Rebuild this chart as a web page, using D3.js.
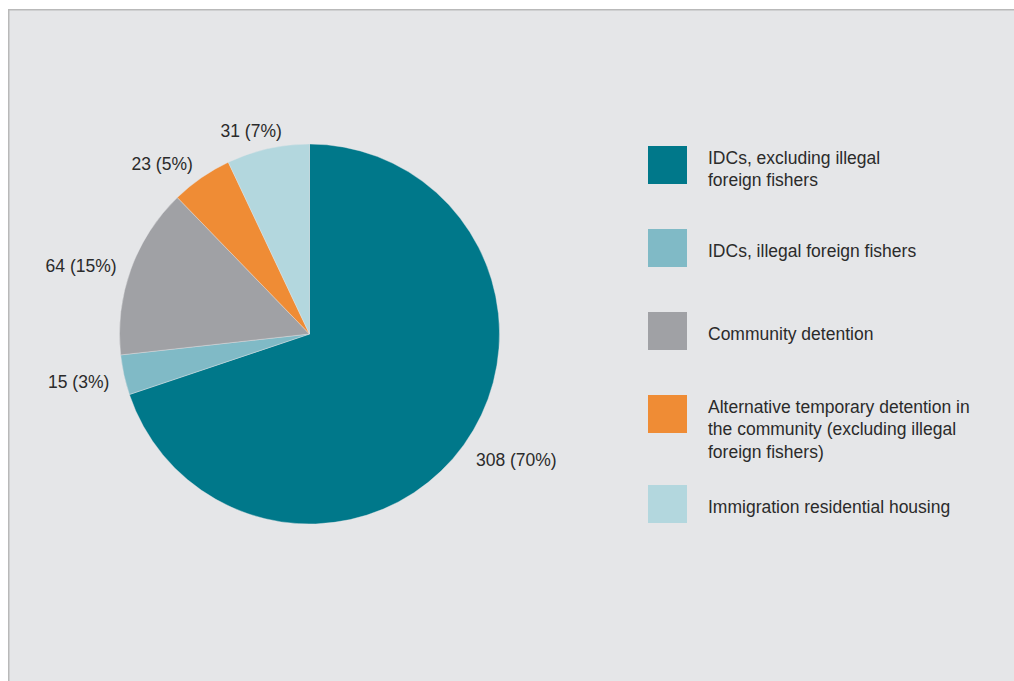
<!DOCTYPE html>
<html>
<head>
<meta charset="utf-8">
<script src="https://cdn.jsdelivr.net/npm/d3@7"></script>
<style>
  html, body { margin: 0; padding: 0; background: #ffffff; }
  svg { display: block; }
  text { font-family: "Liberation Sans", Arial, Helvetica, sans-serif; fill: #2b2b2b; }
</style>
</head>
<body>
<svg id="chart" width="1014" height="681"></svg>
<script>
// Detention placements by type
const categories = [
  "IDCs, excluding illegal foreign fishers",
  "IDCs, illegal foreign fishers",
  "Community detention",
  "Alternative temporary detention in the community (excluding illegal foreign fishers)",
  "Immigration residential housing"
];
const values = [308, 15, 64, 23, 31];
const percents = [70, 3, 15, 5, 7];
const legendLines = [
  ["IDCs, excluding illegal", "foreign fishers"],
  ["IDCs, illegal foreign fishers"],
  ["Community detention"],
  ["Alternative temporary detention in", "the community (excluding illegal", "foreign fishers)"],
  ["Immigration residential housing"]
];
const colors = ["#00788a", "#80bac6", "#a0a1a5", "#ef8c35", "#b3d7de"];

const W = 1014, H = 681;
const svg = d3.select("#chart");

// panel background with top and left rule
svg.append("rect").attr("x", 8).attr("y", 9.5).attr("width", W - 8).attr("height", H - 9.5)
  .attr("fill", "#e5e6e8");
svg.append("path").attr("d", `M8.75,${H} V9.75 H${W}`)
  .attr("fill", "none").attr("stroke", "#b9b9b9").attr("stroke-width", 1.5);

const cx = 309.5, cy = 334, R = 190;
const fontSize = 17.5;

const color = d3.scaleOrdinal().domain(categories).range(colors);

const pie = d3.pie().sort(null).value(d => d.value);
const data = categories.map((c, i) => ({ name: c, value: values[i], pct: percents[i] }));
const arcs = pie(data);
const arc = d3.arc().innerRadius(0).outerRadius(R);

const g = svg.append("g").attr("transform", `translate(${cx},${cy})`);
g.selectAll("path.slice").data(arcs).join("path")
  .attr("class", "slice")
  .attr("d", arc)
  .attr("fill", d => color(d.data.name))
  .attr("stroke", "#e5e6e8")
  .attr("stroke-width", 0.4);

// value labels outside the pie
const labelR = 205;
const labels = g.selectAll("text.val").data(arcs).join("text")
  .attr("class", "val")
  .attr("font-size", fontSize)
  .text(d => `${d.data.value} (${d.data.pct}%)`);

labels.each(function(d) {
  const a = (d.startAngle + d.endAngle) / 2;
  const s = Math.sin(a), c = -Math.cos(a);
  const ax = s * labelR, ay = c * labelR;
  const w = this.getComputedTextLength();
  const k = Math.max(-1, Math.min(1, s * 2));
  const x = ax + k * w / 2;
  const y = ay + c * 6 + 3;
  d3.select(this)
    .attr("x", x).attr("y", y)
    .attr("text-anchor", "middle")
    .attr("dominant-baseline", "central");
});

// legend: each entry's step grows with the height of its text block
const legendX = 648, sw = 39, sh = 38;
const lineGap = 22.5;
const legend = svg.append("g");
let entryTop = 146;
categories.forEach((c, i) => {
  const lines = legendLines[i];
  legend.append("rect")
    .attr("x", legendX).attr("y", entryTop).attr("width", sw).attr("height", sh)
    .attr("fill", color(c));
  const firstY = lines.length === 1 ? entryTop + sh / 2 + 2.5 : entryTop + 11.5;
  lines.forEach((t, j) => {
    legend.append("text")
      .attr("x", 708)
      .attr("y", firstY + j * lineGap)
      .attr("dominant-baseline", "central")
      .attr("font-size", fontSize)
      .text(t);
  });
  entryTop += 83 + (lines.length > 2 ? 7 : 0);
});
</script>
</body>
</html>
